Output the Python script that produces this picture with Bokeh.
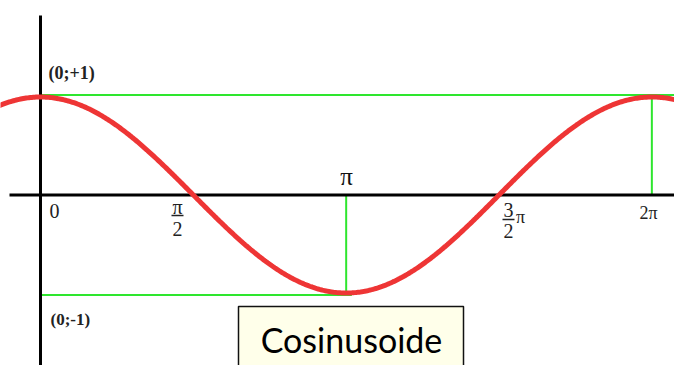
import numpy as np
from bokeh.plotting import figure
from bokeh.models import Range1d
from bokeh.core.properties import value
from bokeh.embed import file_html
from bokeh.resources import INLINE

# ---- data ----
x_curve = np.linspace(-0.45, 6.75, 500)
y_curve = np.cos(x_curve)

guide_x0 = [0.0, 2 * np.pi, np.pi, 0.0]
guide_x1 = [6.8, 2 * np.pi, np.pi, 3.2]
guide_y0 = [1.02, 0.0, 0.0, -1.02]
guide_y1 = [1.02, 1.02, -1.02, -1.02]

point_labels = ["(0;+1)", "(0;-1)"]
tick_simple = ["0", "π", "2π"]
frac_labels = [("π", "2"), ("3", "2")]
title_text = "Cosinusoide"

# ---- pixel helpers (reference px -> data) ----
SX, SY, X0, Y0 = 97.3, 98.0, 40.0, 194.5
def dx(px): return (px - X0) / SX
def dy(py): return (Y0 - py) / SY

W, H = 674, 365
p = figure(width=W, height=H,
           x_range=Range1d(dx(0), dx(W)), y_range=Range1d(dy(H), dy(0)),
           output_backend="svg", toolbar_location=None,
           x_axis_location=None, y_axis_location=None,
           min_border=0, outline_line_color=None)
p.grid.visible = False
p.background_fill_color = "white"
p.border_fill_color = "white"

# green guides
p.segment(guide_x0, guide_y0, guide_x1, guide_y1, line_color="#2EE62E", line_width=2)

# axes
p.segment([dx(9), 0], [0, dy(380)], [6.9, 0], [0, dy(15)], line_color="black", line_width=3)

# curve
p.line(x_curve, y_curve, line_color="#EE3535", line_width=5)

serif = value("Liberation Serif")
# point labels
p.text([dx(48)], [dy(72)], text=[point_labels[0]], text_font=serif, text_font_style="bold",
       text_font_size="18px", text_baseline="middle", text_align="left", text_color="#222222")
p.text([dx(50)], [dy(319)], text=[point_labels[1]], text_font=serif, text_font_style="bold",
       text_font_size="17px", text_baseline="middle", text_align="left", text_color="#222222")

# simple ticks
p.text([dx(54)], [dy(210)], text=[tick_simple[0]], text_font=serif, text_font_size="20px",
       text_baseline="middle", text_align="center", text_color="#222222")
p.text([dx(346)], [dy(176)], text=[tick_simple[1]], text_font=serif, text_font_size="25px",
       text_baseline="middle", text_align="center", text_color="#111111")
p.text([dx(648)], [dy(212)], text=[tick_simple[2]], text_font=serif, text_font_size="18px",
       text_baseline="middle", text_align="center", text_color="#222222")

# fractions
p.text([dx(177), dx(177)], [dy(206), dy(228)], text=list(frac_labels[0]), text_font=serif,
       text_font_size="20px", text_baseline="middle", text_align="center", text_color="#222222")
p.text([dx(508), dx(508)], [dy(209), dy(230)], text=list(frac_labels[1]), text_font=serif,
       text_font_size="20px", text_baseline="middle", text_align="center", text_color="#222222")
p.text([dx(520)], [dy(216)], text=["π"], text_font=serif, text_font_size="18px",
       text_baseline="middle", text_align="center", text_color="#222222")
p.segment([dx(171), dx(502)], [dy(215), dy(219)], [dx(183), dx(514)], [dy(215), dy(219)],
          line_color="#222222", line_width=1.3)

# title box
p.quad(left=[dx(238)], right=[dx(463)], top=[dy(306)], bottom=[dy(390)],
       fill_color="#FFFFEA", line_color="#111111", line_width=1.5)
p.text([dx(351)], [dy(339)], text=[title_text], text_font=value("Lato"), text_font_size="34px",
       text_baseline="middle", text_align="center", text_color="black")

open("out.html", "w").write(file_html(p, INLINE))
